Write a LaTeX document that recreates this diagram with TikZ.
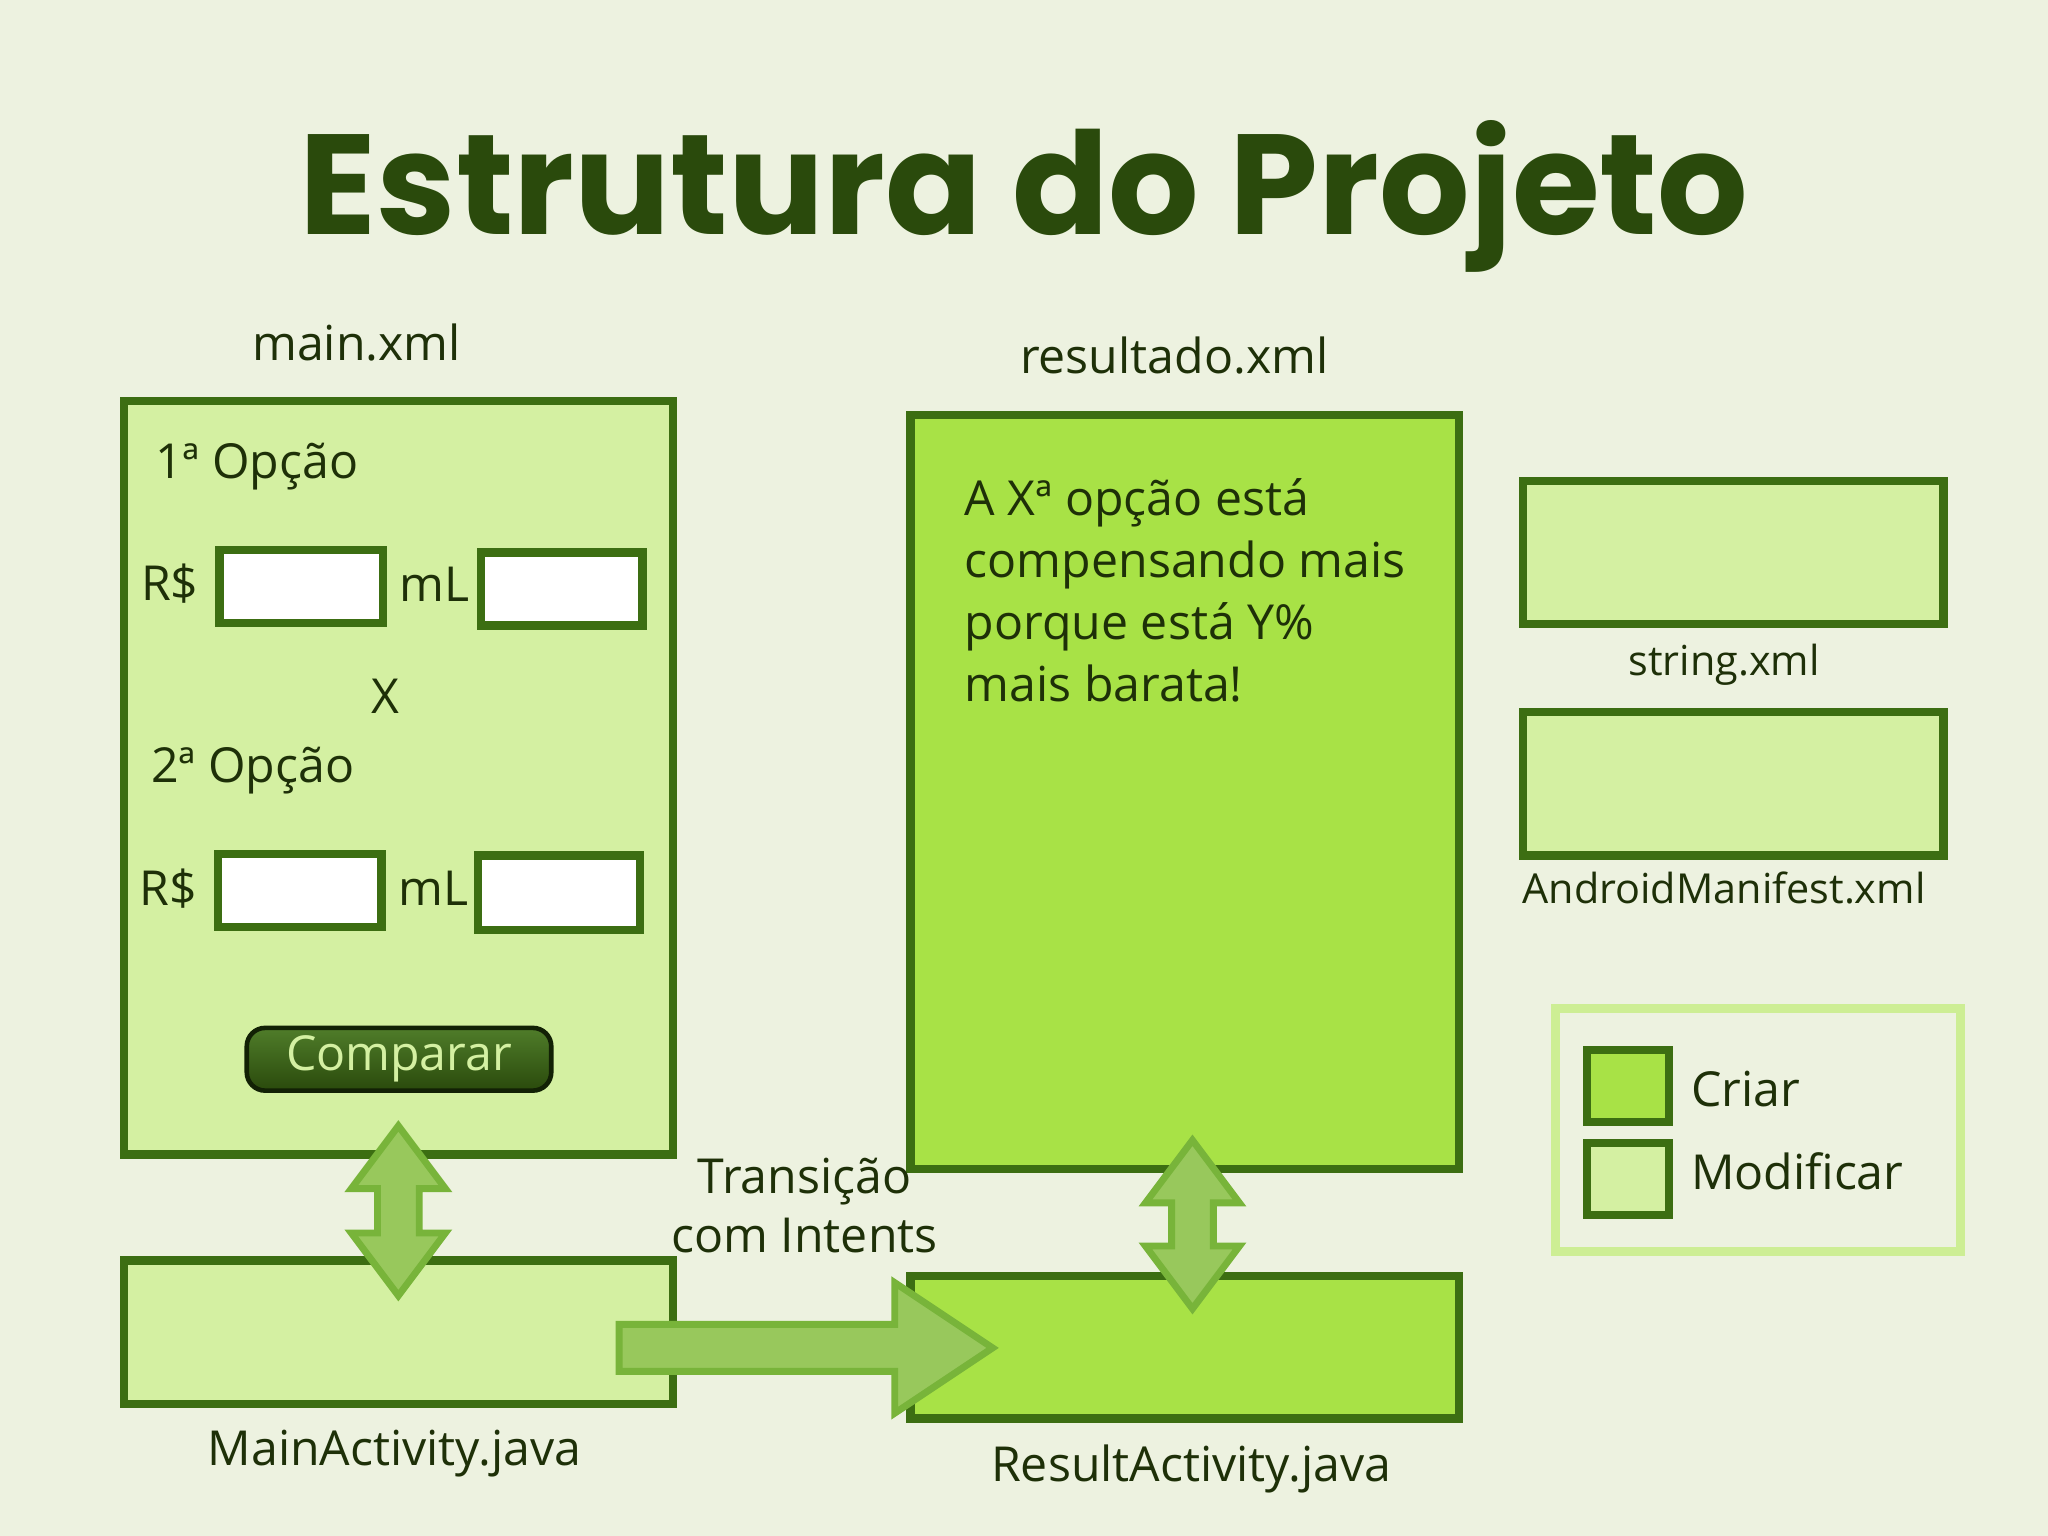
\documentclass[tikz,border=0pt]{standalone}
\usepackage{fontspec}
\setmainfont{Open Sans}
\newfontfamily\titlefont{Poppins}[UprightFont=* Bold]
\definecolor{bg}{HTML}{EDF2E0}
\definecolor{lightg}{HTML}{D4F0A2}
\definecolor{brightg}{HTML}{A8E246}
\definecolor{edge}{HTML}{3C6E12}
\definecolor{titlec}{HTML}{2A4A0C}
\definecolor{arrowf}{HTML}{98C85C}
\definecolor{arrowe}{HTML}{78B43A}
\definecolor{txt}{HTML}{1E3008}
\tikzset{
 lbox/.style={draw=edge,line width=1.8pt,fill=lightg},
 bbox/.style={draw=edge,line width=1.8pt,fill=brightg},
 wbox/.style={draw=edge,line width=1.8pt,fill=white},
 lab/.style={text=txt,font=\fontsize{10.5}{13}\selectfont,inner sep=0pt},
 slab/.style={text=txt,font=\fontsize{9}{11}\selectfont,inner sep=0pt},
 arr/.style={fill=arrowf,draw=arrowe,line width=1.5pt,line join=miter}
}
\begin{document}
\begin{tikzpicture}[x=0.01cm,y=-0.01cm]
\fill[bg] (0,0) rectangle (1568,1176);
\useasboundingbox (0,0) rectangle (1568,1176);
\node[text=titlec,font=\titlefont\fontsize{31}{34}\selectfont] (title) at (784,150) {Estrutura do Projeto};
% main
\node[lab] (mainl) at (273,262) {main.xml};
\draw[lbox] (95,307) rectangle (515,884);
\node[lab,anchor=west] (o1) at (118,357) {1ª Opção};
\node[lab] (rs1) at (130,447) {R\$};
\draw[wbox] (168,421) rectangle (293,477);
\node[lab] (ml1) at (333,447) {mL};
\draw[wbox] (368,423) rectangle (492,479);
\node[lab] (x) at (295,533) {X};
\node[lab,anchor=west] (o2) at (115,590) {2ª Opção};
\node[lab] (rs2) at (129,680) {R\$};
\draw[wbox] (167,654) rectangle (292,710);
\node[lab] (ml2) at (332,680) {mL};
\draw[wbox] (366,655) rectangle (490,712);
\node[draw=black!70!edge,line width=1pt,rounded corners=4pt,top color=edge!90!white,bottom color=titlec,minimum width=2.33cm,minimum height=0.48cm,text=lightg,font=\fontsize{10.5}{13}\selectfont,inner sep=0pt] (btn) at (305.5,811) {Comparar};
\draw[lbox] (95,965) rectangle (515,1075);
\node[lab] (mal) at (302,1113) {MainActivity.java};
% result
\node[lab] (resl) at (899,272) {resultado.xml};
\draw[bbox] (697,318) rectangle (1117,895);
\node[lab,anchor=north west,align=left,font=\fontsize{10.5}{13.5}\selectfont] (rtxt) at (738,366) {A Xª opção está\\compensando mais\\porque está Y\%\\mais barata!};
\draw[bbox] (697,977) rectangle (1117,1086);
\node[lab] (ral) at (912,1125) {ResultActivity.java};
% double arrows
\foreach \cx/\ta/\tb in {305/862/992, 913/873/1002}{
 \draw[arr] (\cx,\ta) -- (\cx+36,\ta+48) -- (\cx+16,\ta+48) -- (\cx+16,\tb-48) -- (\cx+36,\tb-48) -- (\cx,\tb) -- (\cx-36,\tb-48) -- (\cx-16,\tb-48) -- (\cx-16,\ta+48) -- (\cx-36,\ta+48) -- cycle;
}
% big arrow
\draw[arr] (474,1014) -- (685,1014) -- (685,982) -- (760,1032) -- (685,1082) -- (685,1050) -- (474,1050) -- cycle;
\node[lab,align=center] (trans) at (616,923) {Transição\\com Intents};
% side boxes
\draw[lbox] (1166,368) rectangle (1488,478);
\node[slab] (strl) at (1320,509) {string.xml};
\draw[lbox] (1166,545) rectangle (1488,655);
\node[slab] (andl) at (1320,680) {AndroidManifest.xml};
% legend
\draw[draw=lightg!85!brightg,line width=2pt] (1191,772) rectangle (1501,958);
\draw[bbox] (1215,804) rectangle (1278,859);
\draw[lbox] (1215,875) rectangle (1278,930);
\node[lab,anchor=west] (cr) at (1294,834) {Criar};
\node[lab,anchor=west] (md) at (1294,897) {Modificar};
\end{tikzpicture}
\end{document}
